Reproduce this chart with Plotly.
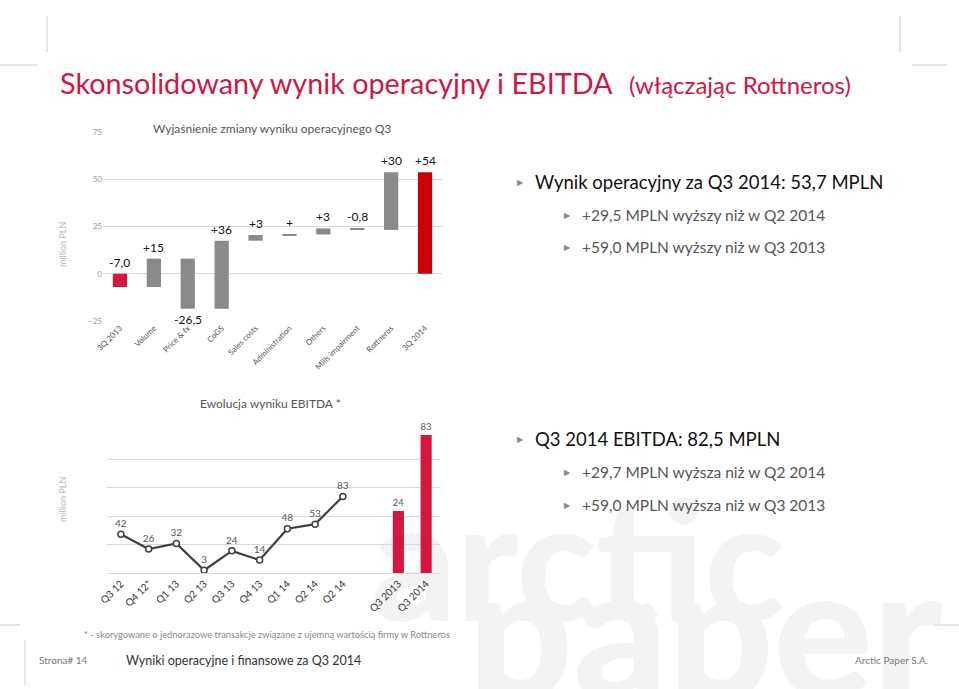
import numpy as np
import plotly.graph_objects as go

# --- waterfall: Wyjasnienie zmiany wyniku operacyjnego Q3 ---
wf_categories = ["3Q 2013", "Volume", "Price & fx", "CoGS", "Sales costs",
                 "Administration", "Others", "Mills impairment", "Rottneros", "3Q 2014"]
wf_deltas = [-7.0, 15.0, -26.5, 36.0, 3.0, 0.3, 3.2, -0.8, 30.5]
wf_total = 53.7
wf_labels = ["-7,0", "+15", "-26,5", "+36", "+3", "+", "+3", "-0,8", "+30", "+54"]

# --- EBITDA evolution ---
eb_quarters = ["Q3 12", "Q4 12*", "Q1 13", "Q2 13", "Q3 13", "Q4 13", "Q1 14", "Q2 14", "Q2 14"]
eb_values = [42, 26, 32, 3, 24, 14, 48, 53, 83]
eb_bar_labels = ["Q3 2013", "Q3 2014"]
eb_bar_values = [24, 83]

W, H = 959, 689
RED = "#d4173f"


def px(x):
    return x / W


def py(y):
    return 1 - y / H


fig = go.Figure()

# background watermark on the first (bottom-most) subplot
fig.add_trace(go.Scatter(
    x=[578, 705], y=[580, 652], mode="text", text=["arctic", "paper"],
    textfont=dict(family="Lato", size=[165, 185], color="#f3f3f3", weight=900),
    hoverinfo="skip", showlegend=False, xaxis="x", yaxis="y"))

# waterfall built from deltas
starts = np.concatenate([[0], np.cumsum(wf_deltas)[:-1]])
bases = list(starts) + [0]
heights = list(wf_deltas) + [wf_total]
colors = [RED] + ["#8a8a8a"] * (len(wf_deltas) - 1) + ["#cc0000"]
fig.add_trace(go.Bar(
    x=wf_categories, y=heights, base=bases, marker_color=colors, width=0.42,
    hoverinfo="skip", showlegend=False, xaxis="x2", yaxis="y2"))

annotations = []
for cat, b, h, lab in zip(wf_categories, bases, heights, wf_labels):
    top = max(b, b + h)
    low = min(b, b + h)
    if cat == "Price & fx":
        annotations.append(dict(x=cat, y=low, xref="x2", yref="y2", text=lab, showarrow=False,
                                xanchor="center", yanchor="top", yshift=-1,
                                font=dict(size=12, color="#111")))
    else:
        annotations.append(dict(x=cat, y=top, xref="x2", yref="y2", text=lab, showarrow=False,
                                xanchor="center", yanchor="bottom", yshift=2,
                                font=dict(size=12, color="#111")))

# EBITDA line
fig.add_trace(go.Scatter(
    x=list(range(len(eb_quarters))), y=eb_values, mode="lines+markers+text",
    text=[str(v) for v in eb_values], textposition="top center",
    textfont=dict(size=10, color="#555"),
    line=dict(color="#404040", width=2.2),
    marker=dict(symbol="circle", size=6, color="white", line=dict(color="#404040", width=1.5)),
    hoverinfo="skip", showlegend=False, xaxis="x3", yaxis="y3"))

# EBITDA bars (own scale, as on the original slide)
y4_range = [-24.1, 86.1]
bar_x = [len(eb_quarters) + 1 + i for i in range(len(eb_bar_values))]
fig.add_trace(go.Bar(
    x=bar_x, y=[v - y4_range[0] for v in eb_bar_values], base=y4_range[0],
    marker_color=RED, width=0.4, text=[str(v) for v in eb_bar_values],
    textposition="outside", textfont=dict(size=10, color="#555"), cliponaxis=False,
    hoverinfo="skip", showlegend=False, xaxis="x3", yaxis="y4"))

all_ticks = eb_quarters + [""] + eb_bar_labels
grid = "#d9d9d9"

fig.update_layout(
    template="none",
    width=W, height=H, autosize=False, margin=dict(l=0, r=0, t=0, b=0, pad=0),
    paper_bgcolor="white", plot_bgcolor="rgba(0,0,0,0)",
    font=dict(family="Lato", color="#333"),
    xaxis=dict(domain=[0, 1], range=[0, W], visible=False, fixedrange=True, automargin=False),
    yaxis=dict(domain=[0, 1], range=[H, 0], visible=False, fixedrange=True, automargin=False),
    xaxis2=dict(domain=[px(103), px(442)], anchor="y2", tickangle=-45, automargin=False,
                tickfont=dict(size=8, color="#555"), showgrid=False, showline=False, ticks=""),
    yaxis2=dict(domain=[py(321), py(132)], anchor="x2", range=[-25, 75], dtick=25, automargin=False,
                showgrid=True, gridcolor=grid, gridwidth=1, zeroline=True, zerolinecolor=grid,
                zerolinewidth=1, tickfont=dict(size=8, color="#999"), ticks="", showline=False),
    xaxis3=dict(domain=[px(107), px(440)], anchor="y3", range=[-0.5, len(all_ticks) - 0.5],
                tickvals=list(range(len(all_ticks))), ticktext=all_ticks, tickangle=-45,
                automargin=False, tickfont=dict(size=10, color="#333"), showgrid=False,
                showline=True, linecolor=grid, ticks="", zeroline=False),
    yaxis3=dict(domain=[py(573), py(431)], anchor="x3", range=[0, 154], automargin=False,
                tickvals=[0, 30.8, 61.6, 92.4, 123.2, 154], showticklabels=False,
                showgrid=True, gridcolor=grid, gridwidth=1, zeroline=False, ticks=""),
    yaxis4=dict(domain=[py(573), py(431)], anchor="x3", overlaying="y3", range=y4_range,
                visible=False, automargin=False),
    bargap=0.5, showlegend=False,
)

# slide text
texts = [
    dict(x=px(58), y=py(83), text="Skonsolidowany wynik operacyjny i EBITDA", xanchor="left",
         font=dict(size=28.8, color="#cf1746")),
    dict(x=px(627), y=py(85), text="(włączając Rottneros)", xanchor="left",
         font=dict(size=24, color="#cf1746")),
    dict(x=px(272), y=py(128), text="Wyjaśnienie zmiany wyniku operacyjnego Q3", xanchor="center",
         font=dict(size=12, color="#555")),
    dict(x=px(270), y=py(404), text="Ewolucja wyniku EBITDA *", xanchor="center",
         font=dict(size=12, color="#555")),
    dict(x=px(62), y=py(245), text="million PLN", textangle=-90, xanchor="center",
         font=dict(size=9, color="#bbb")),
    dict(x=px(62), y=py(500), text="million PLN", textangle=-90, xanchor="center",
         font=dict(size=9, color="#bbb")),
    dict(x=px(82), y=py(634), text="* - skorygowane o jednorazowe transakcje związane z ujemną wartością firmy w Rottneros",
         xanchor="left", font=dict(size=9.3, color="#888")),
    dict(x=px(37), y=py(660), text="Strona# 14", xanchor="left", font=dict(size=10, color="#777")),
    dict(x=px(124), y=py(660), text="Wyniki operacyjne i finansowe za Q3 2014", xanchor="left",
         font=dict(size=12.5, color="#333")),
    dict(x=px(930), y=py(660), text="Arctic Paper S.A.", xanchor="right", font=dict(size=10, color="#777")),
]

bullets = [
    (533, 182, "Wynik operacyjny za Q3 2014: 53,7 MPLN", 18.5, "#111"),
    (580, 215, "+29,5 MPLN wyższy niż w Q2 2014", 15.5, "#555"),
    (580, 247, "+59,0 MPLN wyższy niż w Q3 2013", 15.5, "#555"),
    (533, 439, "Q3 2014 EBITDA: 82,5 MPLN", 18.5, "#111"),
    (580, 472, "+29,7 MPLN wyższa niż w Q2 2014", 15.5, "#555"),
    (580, 505, "+59,0 MPLN wyższa niż w Q3 2013", 15.5, "#555"),
]
for bx, by, t, s, c in bullets:
    texts.append(dict(x=px(bx), y=py(by), text=t, xanchor="left", font=dict(size=s, color=c)))
    texts.append(dict(x=px(bx - 18), y=py(by), text="▶", xanchor="left", font=dict(size=8, color="#888")))

for t in texts:
    t.update(xref="paper", yref="paper", showarrow=False)
    t.setdefault("yanchor", "middle")
    annotations.append(t)

fig.update_layout(annotations=annotations)

# decorative corner lines
line_style = dict(color="#cccccc", width=1)
for x0, y0, x1, y1 in [(47, 16, 47, 52), (0, 65, 38, 65), (900, 16, 900, 52), (912, 65, 947, 65),
                       (25, 640, 25, 685), (0, 625, 20, 625), (935, 625, 959, 625)]:
    fig.add_shape(type="line", xref="paper", yref="paper", x0=px(x0), y0=py(y0), x1=px(x1), y1=py(y1),
                  line=line_style)

# page body has a default margin; drop it so the slide sits at the window origin
fig.write_html("out.html", config={"displayModeBar": False},
               post_script="document.body.style.margin='0';")
